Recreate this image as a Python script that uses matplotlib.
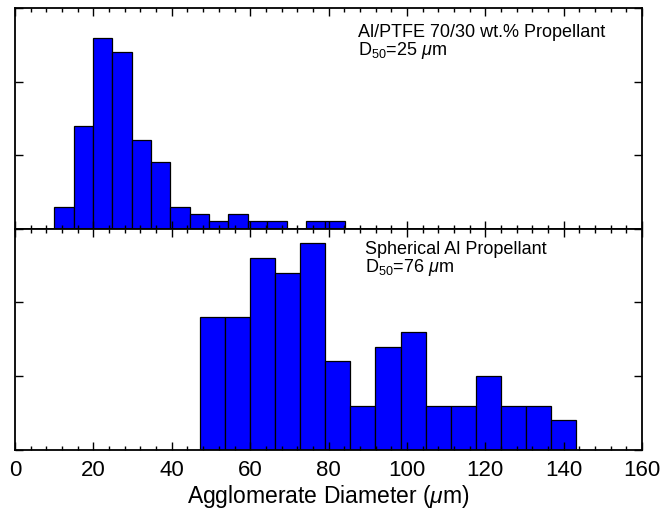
import numpy as np
import matplotlib
matplotlib.use('Agg')
import matplotlib.pyplot as plt
from matplotlib.ticker import MultipleLocator

plt.rcParams['font.family'] = ['Liberation Sans', 'DejaVu Sans']
plt.rcParams['mathtext.fontset'] = 'custom'
plt.rcParams['mathtext.rm'] = 'Liberation Sans'
plt.rcParams['mathtext.it'] = 'Liberation Sans:italic'

# Al/PTFE 70/30 - гистограмма (высоты столбцов)
ptfe_start = 10.0
ptfe_width = 4.94
ptfe_counts = [3, 14, 26, 24, 12, 9, 3, 2, 1, 2, 1, 1, 0, 1, 1]

# Сферический Al
sph_start = 47.1
sph_width = 6.41
sph_counts = [18, 18, 26, 24, 28, 12, 6, 14, 16, 6, 6, 10, 6, 6, 4]

x_ticks = [0, 20, 40, 60, 80, 100, 120, 140, 160]


def draw_hist(ax, start, width, counts):
    edges = start + width * np.arange(len(counts))
    ax.bar(edges, counts, width=width, align='edge', color='#0000ff',
           edgecolor='black', linewidth=0.9)
    ax.set_xlim(0, 160)
    ax.set_ylim(0, 30)
    ax.set_xticks(x_ticks)
    ax.xaxis.set_minor_locator(MultipleLocator(4))
    ax.set_yticks([0, 10, 20, 30])
    ax.set_yticklabels([])
    ax.tick_params(which='both', direction='in', top=True, right=True, width=1.0)
    ax.tick_params(which='major', length=6)
    ax.tick_params(which='minor', length=3)
    for s in ax.spines.values():
        s.set_linewidth(1.3)


fig = plt.figure(figsize=(6.65, 5.09), dpi=100)
ax_top = fig.add_axes([0.0226, 0.551, 0.943, 0.433])
ax_bot = fig.add_axes([0.0226, 0.116, 0.943, 0.435])

draw_hist(ax_top, ptfe_start, ptfe_width, ptfe_counts)
draw_hist(ax_bot, sph_start, sph_width, sph_counts)

ax_top.set_xticklabels([])
ax_bot.set_xticklabels([str(t) for t in x_ticks], fontsize=16)
ax_bot.tick_params(axis='x', pad=7)
ax_bot.set_xlabel(r'Agglomerate Diameter ($\mu$m)', fontsize=16.5, labelpad=2)

ax_top.text(87.6, 0.87, 'Al/PTFE 70/30 wt.% Propellant', transform=ax_top.get_xaxis_transform(),
            fontsize=13, va='baseline')
ax_top.text(87.6, 0.787, r'D$_{50}$=25 $\mu$m', transform=ax_top.get_xaxis_transform(),
            fontsize=13, va='baseline')
ax_bot.text(89.4, 0.884, 'Spherical Al Propellant', transform=ax_bot.get_xaxis_transform(),
            fontsize=13, va='baseline')
ax_bot.text(89.4, 0.805, r'D$_{50}$=76 $\mu$m', transform=ax_bot.get_xaxis_transform(),
            fontsize=13, va='baseline')

fig.savefig('out.png', dpi=100)
